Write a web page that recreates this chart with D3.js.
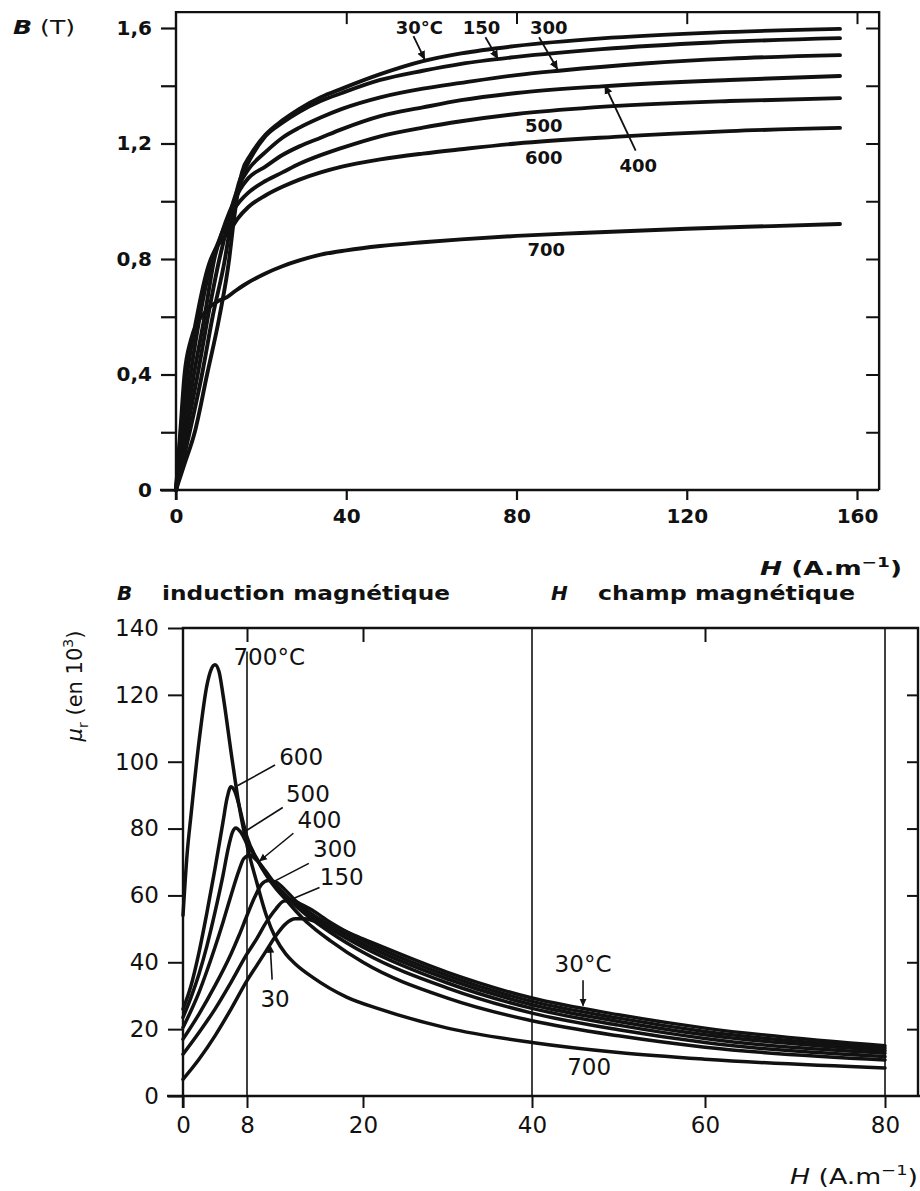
<!DOCTYPE html>
<html><head><meta charset="utf-8">
<script src="https://cdn.jsdelivr.net/npm/d3@7"></script>
<style>
body{margin:0;background:#fff}
svg{display:block}
text{font-family:"DejaVu Sans","Liberation Sans",Arial,sans-serif;fill:#111}
</style>
</head><body>
<svg id="chart" width="920" height="1191"></svg>
<script>
// ---------- DATA ----------
const temperatures = ["30", "150", "300", "400", "500", "600", "700"];

// Top chart: B (T) vs H (A/m)
const bh30  = [[0,0],[2,0.09],[4.4,0.2],[7.3,0.4],[10.2,0.6],[12.5,0.8],[13.3,0.9],[14.2,1.0],[15.5,1.1],[17.5,1.16],[21,1.23],[25,1.28],[29,1.32],[34,1.36],[39,1.39],[48,1.44],[58,1.485],[67,1.512],[80,1.538],[100,1.564],[126,1.584],[156,1.597]];
const bh150 = [[0,0],[1.5,0.09],[3.2,0.2],[6.1,0.4],[8.6,0.6],[11.5,0.8],[12.5,0.89],[13.5,0.98],[14.7,1.06],[16.5,1.12],[21,1.225],[25,1.272],[29,1.31],[34,1.347],[39,1.375],[48,1.42],[58,1.452],[67,1.476],[80,1.5],[100,1.527],[126,1.55],[156,1.565]];
const bh300 = [[0,0],[1.2,0.09],[2.5,0.2],[5.1,0.4],[7.5,0.6],[10.2,0.8],[11.5,0.88],[12.5,0.94],[13.5,1.0],[15,1.06],[17,1.11],[21,1.17],[25,1.22],[29,1.255],[34,1.29],[39,1.32],[48,1.36],[58,1.39],[67,1.41],[80,1.437],[90,1.452],[110,1.477],[130,1.494],[156,1.506]];
const bh400 = [[0,0],[2,0.2],[4.2,0.4],[6.7,0.6],[9,0.8],[11,0.9],[12.5,0.96],[14,1.01],[15,1.04],[17,1.08],[21,1.12],[25,1.16],[29,1.19],[34,1.22],[39,1.25],[48,1.295],[58,1.325],[67,1.35],[80,1.375],[100,1.398],[130,1.42],[156,1.434]];
const bh500 = [[0,0],[1.5,0.2],[3.4,0.4],[5.6,0.6],[8.5,0.8],[10,0.86],[12,0.93],[13.5,0.97],[15,1.0],[17,1.03],[21,1.07],[25,1.1],[29,1.13],[34,1.16],[39,1.185],[48,1.225],[58,1.255],[67,1.277],[80,1.302],[98,1.325],[130,1.347],[156,1.357]];
const bh600 = [[0,0],[1.1,0.2],[2.6,0.4],[4.9,0.6],[7.7,0.78],[9.5,0.84],[11,0.87],[12.7,0.9],[14.5,0.94],[17,0.98],[21,1.02],[25,1.05],[29,1.075],[34,1.1],[39,1.12],[48,1.145],[58,1.165],[67,1.18],[80,1.2],[103,1.223],[130,1.243],[156,1.254]];
const bh700 = [[0,0],[1,0.2],[2,0.4],[3.5,0.52],[5,0.58],[6.5,0.61],[8,0.635],[10,0.655],[12,0.668],[14,0.69],[16,0.71],[21,0.75],[25,0.775],[29,0.795],[34,0.815],[40,0.83],[48,0.845],[58,0.858],[67,0.868],[80,0.88],[95,0.89],[120,0.905],[140,0.914],[156,0.921]];

// Bottom chart: relative permeability (x 10^3) vs H (A/m)
const mu30  = [[0,5],[2,11],[4,18],[6,26],[8,34.5],[9,39],[10,43.5],[11,48],[12,51.5],[13,53],[14,53],[15,52.3],[16.6,51],[20,47],[30,37],[40,29.3],[50,24.3],[60,20.3],[80,15]];
const mu150 = [[0,12.5],[2,19],[4,26],[6,34],[8,42.5],[9,47],[10,52],[11,56],[11.8,58.3],[12.6,58.5],[13.5,57.5],[14.5,56],[16.6,52],[20,46.5],[30,36],[40,28.3],[50,23.3],[60,19.3],[80,14.3]];
const mu300 = [[0,17],[2,24.5],[4,33],[6,42.5],[7,48],[8,54],[8.8,59.5],[9.5,63.3],[10.2,64.5],[11,64],[12,61.5],[13,58.5],[14,56],[16.6,51],[20,45.5],[30,35],[40,27.3],[50,22.3],[60,18.3],[80,13.6]];
const mu400 = [[0,20.5],[1,25.5],[2,31],[3,37.5],[4,44.5],[5,52],[6,60],[7,67.5],[7.6,71],[8.3,72],[9,70.5],[10,67],[11,63],[12,60],[13,57.5],[14,55],[16.6,50],[20,44.5],[30,33.8],[40,26.2],[50,21.2],[60,17.2],[80,12.8]];
const mu500 = [[0,23.5],[1,29.5],[2,36.5],[3,45],[4,55],[5,66],[5.6,73.5],[6.2,79],[6.6,80.2],[7.2,79],[8,75.5],[9,71],[10,66.5],[11,63],[12,60],[13,57],[14,54.5],[16.6,49],[20,43],[30,32.3],[40,24.8],[50,19.8],[60,16],[80,11.8]];
const mu600 = [[0,26],[1,33],[2,43],[3,55],[4,68],[5,82],[5.5,89],[6,92.5],[6.5,91],[7,87],[7.5,82],[8,77.5],[9,71],[10,66],[11,62],[12,58.8],[13,55.5],[14,52.5],[15,50],[16.6,46.5],[20,40],[30,29.3],[40,22.5],[50,18],[60,14.6],[80,10.8]];
const mu700 = [[0,54],[0.5,72],[1,84],[2,106],[3,123],[3.5,127.5],[4,129],[4.5,127],[5,120],[6,103],[7,87],[8,75],[9,64],[10,54],[11,47],[12,42.5],[13,39.5],[14.8,35.5],[18.3,29.6],[22,26],[30,20.3],[40,16],[50,13],[60,11],[80,8.4]];

// Tick values
const bMajorTicks = [0, 0.4, 0.8, 1.2, 1.6];
const bMinorTicks = [0.2, 0.6, 1.0, 1.4];
const hTopTicks = [0, 40, 80, 120, 160];
const muTicks = [0, 20, 40, 60, 80, 100, 120, 140];
const hBottomTicks = [0, 8, 20, 40, 60, 80];

// Curve annotations (data units)
const topLabels = [
  {t:"30°C", h:57.2, v:1.6,  a:[[55.8,1.572],[58.4,1.492]]},
  {t:"150",  h:71.8, v:1.6,  a:[[72.7,1.568],[75.6,1.494]]},
  {t:"300",  h:87.6, v:1.6,  a:[[85.3,1.568],[89.6,1.458]]},
  {t:"500",  h:86.4, v:1.262},
  {t:"600",  h:86.4, v:1.152},
  {t:"400",  h:108.6,v:1.125, a:[[108,1.175],[100.8,1.4]]},
  {t:"700",  h:87,   v:0.832}
];
const bottomLabels = [
  {t:"700°C", h:10.3, v:131.5},
  {t:"600", h:13.6, v:101.5, a:[[10.9,99],[6.8,92.8]], noHead:true},
  {t:"500", h:14.3, v:90.5,  a:[[11.7,86.3],[7.4,78.6]], noHead:true},
  {t:"400", h:15.5, v:82.5,  a:[[12.8,78.6],[9.3,70.3]]},
  {t:"300", h:17.1, v:74,    a:[[14.4,69.6],[10.8,64.2]], noHead:true},
  {t:"150", h:17.8, v:65.6,  a:[[15.5,62.4],[12.3,58.5]], noHead:true},
  {t:"30",  h:10.9, v:29.2,  a:[[10.6,34.8],[10.4,45]]},
  {t:"30°C",h:45.9, v:39.6,  a:[[45.9,34.6],[45.9,27]]},
  {t:"700", h:46.6, v:8.8}
];

// ---------- DRAWING ----------
const svg = d3.select("#chart");
svg.append("rect").attr("width",920).attr("height",1191).attr("fill","#fff");
const ink = "#111";
const defs = svg.append("defs");
defs.append("marker").attr("id","arrow").attr("viewBox","0 0 10 10")
  .attr("refX",9).attr("refY",5).attr("markerWidth",5).attr("markerHeight",5)
  .attr("orient","auto").append("path").attr("d","M0,0.5 L10,5 L0,9.5 z").attr("fill",ink);

const fmtB = d => d === 0 ? "0" : d3.format(".1f")(d).replace(".", ",");

function styleAxis(g, width, fontSize, weight){
  g.select(".domain").remove();
  g.selectAll(".tick line").attr("stroke", ink).attr("stroke-width", width);
  g.selectAll(".tick text").attr("fill", ink).style("font-size", fontSize+"px").style("font-weight", weight)
   .style("font-family", '"DejaVu Sans","Liberation Sans",Arial,sans-serif');
}

// ===== TOP CHART =====
const xT = d3.scaleLinear().domain([0,160]).range([176,857]);
const yT = d3.scaleLinear().domain([0,1.6]).range([490,28]);
const topRight = xT(165.2), topTop = yT(1.655);
const gT = svg.append("g");

gT.append("path").attr("d", `M${xT(0)},${yT(0)+10}V${topTop}H${topRight}V${yT(0)}`)
  .attr("fill","none").attr("stroke",ink).attr("stroke-width",2.4);
gT.append("line").attr("x1",xT(0)-16).attr("x2",topRight).attr("y1",yT(0)).attr("y2",yT(0))
  .attr("stroke",ink).attr("stroke-width",2.4);

gT.append("g").attr("transform",`translate(0,${yT(0)})`)
  .call(d3.axisBottom(xT).tickValues(hTopTicks).tickSize(10).tickPadding(9).tickFormat(d3.format("d")))
  .call(g => styleAxis(g, 2.2, 20, "bold"));
gT.append("g").attr("transform",`translate(${xT(0)},0)`)
  .call(d3.axisLeft(yT).tickValues(bMajorTicks.concat(bMinorTicks)).tickSize(15).tickPadding(9)
        .tickFormat(d => bMajorTicks.includes(d) ? fmtB(d) : ""))
  .call(g => styleAxis(g, 2.2, 20, "bold"));
gT.append("g").attr("transform",`translate(0,${topTop})`)
  .call(d3.axisBottom(xT).tickValues(hTopTicks.slice(1)).tickSize(12).tickFormat(""))
  .call(g => styleAxis(g, 2, 0, "normal"));
gT.append("g").attr("transform",`translate(${topRight},0)`)
  .call(d3.axisLeft(yT).tickValues(bMajorTicks.concat(bMinorTicks).filter(d=>d>0)).tickSize(13).tickFormat(""))
  .call(g => styleAxis(g, 2, 0, "normal"));

const lineT = d3.line().x(d=>xT(d[0])).y(d=>yT(d[1])).curve(d3.curveMonotoneX);
[bh700,bh600,bh500,bh400,bh300,bh150,bh30].forEach(s => {
  gT.append("path").attr("d", lineT(s)).attr("fill","none").attr("stroke",ink)
    .attr("stroke-width",3.9).attr("stroke-linejoin","round").attr("stroke-linecap","round");
});

topLabels.forEach(l => {
  gT.append("text").attr("x", xT(l.h)).attr("y", yT(l.v)).attr("dy","0.36em")
    .attr("text-anchor","middle").style("font-size","18px").style("font-weight","bold").text(l.t);
  if (l.a) {
    gT.append("line").attr("x1",xT(l.a[0][0])).attr("y1",yT(l.a[0][1]))
      .attr("x2",xT(l.a[1][0])).attr("y2",yT(l.a[1][1]))
      .attr("stroke",ink).attr("stroke-width",1.8).attr("marker-end","url(#arrow)");
  }
});

// titles
const tB = gT.append("text").attr("x",13).attr("y",34).style("font-size","20px").style("font-weight","bold")
  .attr("textLength",62).attr("lengthAdjust","spacingAndGlyphs");
tB.append("tspan").style("font-style","italic").text("B");
tB.append("tspan").style("font-weight","normal").text(" (T)");

const tH1 = gT.append("text").attr("x",760).attr("y",575).style("font-size","20px").style("font-weight","bold")
  .attr("textLength",142).attr("lengthAdjust","spacingAndGlyphs");
tH1.append("tspan").style("font-style","italic").text("H");
tH1.append("tspan").text(" (A.m");
tH1.append("tspan").attr("dy",-8).style("font-size","14px").text("−1");
tH1.append("tspan").attr("dy",8).text(")");

const cap1 = svg.append("g");
cap1.append("text").attr("x",117).attr("y",600).style("font-size","20px").style("font-weight","bold")
  .style("font-style","italic").text("B");
cap1.append("text").attr("x",162).attr("y",600).style("font-size","20px").style("font-weight","bold")
  .attr("textLength",288).attr("lengthAdjust","spacingAndGlyphs").text("induction magnétique");
const cap2 = svg.append("g");
cap2.append("text").attr("x",551).attr("y",600).style("font-size","20px").style("font-weight","bold")
  .style("font-style","italic").text("H");
cap2.append("text").attr("x",598).attr("y",600).style("font-size","20px").style("font-weight","bold")
  .attr("textLength",257).attr("lengthAdjust","spacingAndGlyphs").text("champ magnétique");

// ===== BOTTOM CHART =====
const xB = d3.scaleLinear().domain(hBottomTicks).range([183,247,363,532,705,885]);
const yB = d3.scaleLinear().domain([0,140]).range([1096,628]);
const botRight = 918;
const gB = svg.append("g");

gB.append("path").attr("d", `M${xB(0)},${yB(0)+12}V${yB(140)}H${botRight}V${yB(0)}`)
  .attr("fill","none").attr("stroke",ink).attr("stroke-width",2.4);
gB.append("line").attr("x1",xB(0)-16).attr("x2",920).attr("y1",yB(0)).attr("y2",yB(0))
  .attr("stroke",ink).attr("stroke-width",2.4);

[[8,133],[40,140],[80,140]].forEach(([h,top]) => {
  gB.append("line").attr("x1",xB(h)).attr("x2",xB(h)).attr("y1",yB(top)).attr("y2",yB(0))
    .attr("stroke",ink).attr("stroke-width",1.6);
});

gB.append("g").attr("transform",`translate(0,${yB(0)})`)
  .call(d3.axisBottom(xB).tickValues(hBottomTicks).tickSize(12).tickPadding(9).tickFormat(d3.format("d")))
  .call(g => styleAxis(g, 2, 23, "normal"));
gB.append("g").attr("transform",`translate(${xB(0)},0)`)
  .call(d3.axisLeft(yB).tickValues(muTicks).tickSize(15).tickPadding(9).tickFormat(d3.format("d")))
  .call(g => styleAxis(g, 2, 23, "normal"));
gB.append("g").attr("transform",`translate(0,${yB(140)})`)
  .call(d3.axisBottom(xB).tickValues([8,20,60]).tickSize(14).tickFormat(""))
  .call(g => styleAxis(g, 2, 0, "normal"));
gB.append("g").attr("transform",`translate(${botRight},0)`)
  .call(d3.axisLeft(yB).tickValues(muTicks.filter(d=>d>0 && d<140)).tickSize(11).tickFormat(""))
  .call(g => styleAxis(g, 2, 0, "normal"));

const lineB = d3.line().x(d=>xB(d[0])).y(d=>yB(d[1])).curve(d3.curveMonotoneX);
[mu700,mu600,mu500,mu400,mu300,mu150,mu30].forEach(s => {
  gB.append("path").attr("d", lineB(s)).attr("fill","none").attr("stroke",ink)
    .attr("stroke-width",3.5).attr("stroke-linejoin","round").attr("stroke-linecap","round");
});

bottomLabels.forEach(l => {
  gB.append("text").attr("x", xB(l.h)).attr("y", yB(l.v)).attr("dy","0.36em")
    .attr("text-anchor","middle").style("font-size","23px").text(l.t);
  if (l.a) {
    const ln = gB.append("line").attr("x1",xB(l.a[0][0])).attr("y1",yB(l.a[0][1]))
      .attr("x2",xB(l.a[1][0])).attr("y2",yB(l.a[1][1]))
      .attr("stroke",ink).attr("stroke-width",1.6);
    if (!l.noHead) ln.attr("marker-end","url(#arrow)");
  }
});

const tMu = gB.append("text").attr("transform","translate(82,686) rotate(-90)")
  .attr("text-anchor","middle").style("font-size","21px");
tMu.append("tspan").style("font-style","italic").text("μ");
tMu.append("tspan").attr("dy",6).style("font-size","14px").text("r");
tMu.append("tspan").attr("dy",-6).text(" (en 10");
tMu.append("tspan").attr("dy",-9).style("font-size","14px").text("3");
tMu.append("tspan").attr("dy",9).text(")");

const tH2 = gB.append("text").attr("x",790).attr("y",1184).style("font-size","21px")
  .attr("textLength",128).attr("lengthAdjust","spacingAndGlyphs");
tH2.append("tspan").style("font-style","italic").text("H");
tH2.append("tspan").text(" (A.m");
tH2.append("tspan").attr("dy",-9).style("font-size","14px").text("−1");
tH2.append("tspan").attr("dy",9).text(")");
</script>
</body></html>
